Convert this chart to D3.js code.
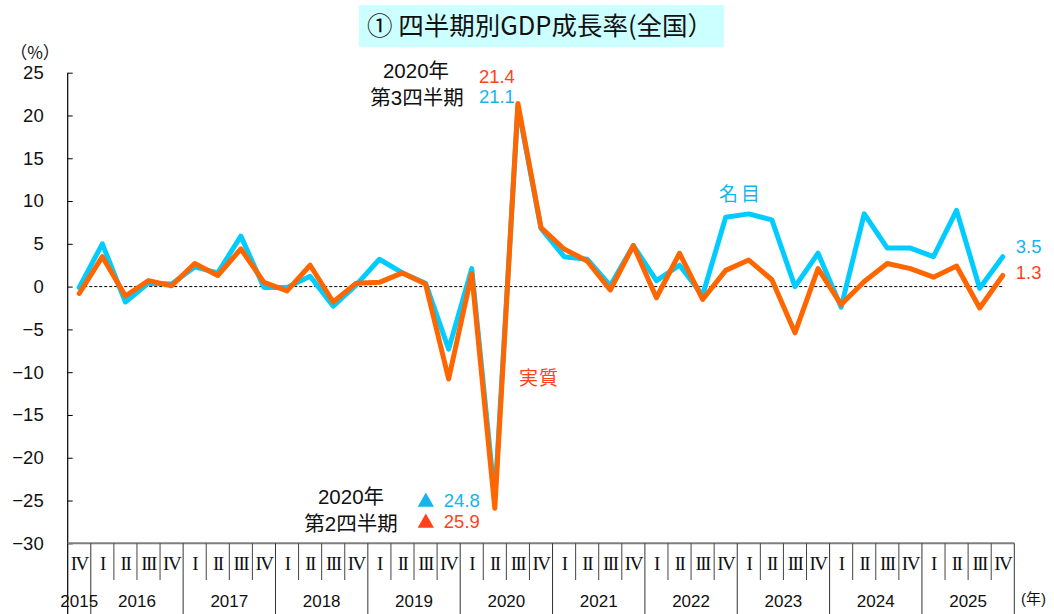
<!DOCTYPE html>
<html>
<head>
<meta charset="utf-8">
<script src="https://cdn.jsdelivr.net/npm/d3@7"></script>
<style>
html,body{margin:0;padding:0;background:#fff;}
svg{display:block;}
text{font-family:"Liberation Sans","Noto Sans CJK JP",sans-serif;}
</style>
</head>
<body>
<svg id="chart" width="1054" height="614"></svg>
<script>
// ---- data ----
const years = ["2015","2016","2017","2018","2019","2020","2021","2022","2023","2024","2025"];
const quarterLabels = ["I","II","III","IV"];
// categories: 2015 Q4 .. 2025 Q4
const categories = [{y:"2015",q:4}].concat(
  years.slice(1).flatMap(y => [1,2,3,4].map(q => ({y, q})))
);
const nominal = [-0.1, 5.0, -1.8, 0.4, 0.3, 2.3, 1.6, 5.9, -0.1, -0.1, 1.2, -2.3, 0.2, 3.2, 1.6, 0.4, -7.3, 2.1, -24.8, 21.1, 6.8, 3.5, 3.2, 0.1, 4.8, 0.7, 2.5, -1.0, 8.1, 8.5, 7.8, 0.0, 3.9, -2.4, 8.5, 4.5, 4.5, 3.5, 8.9, -0.2, 3.5];
const real    = [-0.8, 3.5, -1.1, 0.7, 0.1, 2.7, 1.3, 4.4, 0.5, -0.5, 2.5, -1.8, 0.4, 0.5, 1.6, 0.3, -10.8, 1.5, -25.9, 21.4, 6.9, 4.4, 3.0, -0.4, 4.8, -1.3, 3.9, -1.5, 1.9, 3.1, 0.8, -5.4, 2.1, -2.1, 0.6, 2.7, 2.1, 1.1, 2.4, -2.5, 1.3];
const yTicks = [-30,-25,-20,-15,-10,-5,0,5,10,15,20,25];

const title = "① 四半期別GDP成長率(全国）";

// ---- layout ----
const svg = d3.select("#chart");
const pLeft = 67.7, pRight = 1014.3, pTop = 72.7, pBottom = 543.3, H = 614;
const cyanLine = "#00ccff", orangeLine = "#ff6600";
const cyanText = "#14b4ee", orangeText = "#ff4219";
const jp = "'Noto Sans CJK JP',sans-serif";

const x = d3.scaleBand().domain(d3.range(categories.length)).range([pLeft, pRight]).padding(0);
const y = d3.scaleLinear().domain([-30, 25]).range([pBottom, pTop]);
const cx = i => x(i) + x.bandwidth()/2;

// title
svg.append("rect").attr("x",359).attr("y",5).attr("width",365).attr("height",42).attr("fill","#ccffff");
svg.append("text").attr("x",540).attr("y",35).attr("text-anchor","middle")
  .style("font-family",jp).style("font-size","25.5px").attr("fill","#111")
  .text(title);

// y axis
const yAxis = d3.axisLeft(y).tickValues(yTicks).tickSizeInner(-5).tickSizeOuter(0).tickPadding(24);
const gy = svg.append("g").attr("transform",`translate(${pLeft},0)`).call(yAxis);
gy.select(".domain").remove();
gy.selectAll(".tick line").attr("stroke","#000");
gy.selectAll(".tick text").style("font-size","18.5px").style("font-family","'Liberation Sans',sans-serif").attr("fill","#111");
svg.append("line").attr("x1",pLeft).attr("x2",pLeft).attr("y1",pTop).attr("y2",H).attr("stroke","#000").attr("stroke-width",1.2);
svg.append("text").attr("x",35).attr("y",59).attr("text-anchor","middle")
  .style("font-family",jp).style("font-size","17px").attr("fill","#111").text("（%）");

// x axis (quarters)
const xAxis = d3.axisBottom(x).tickSize(0).tickPadding(13).tickFormat(i => quarterLabels[categories[i].q-1]);
const gx = svg.append("g").attr("transform",`translate(0,${pBottom})`).call(xAxis);
gx.select(".domain").remove();
gx.selectAll(".tick text").style("font-size","19px").style("font-family","'Liberation Serif',serif")
  .style("letter-spacing","-1.5px").attr("fill","#111");
svg.append("line").attr("x1",pLeft).attr("x2",pRight).attr("y1",pBottom).attr("y2",pBottom).attr("stroke","#7f7f7f").attr("stroke-width",2);

// cell boundaries
const bounds = d3.range(1, categories.length+1);
svg.append("g").selectAll("line").data(bounds).join("line")
  .attr("x1", i => i < categories.length ? x(i) : pRight)
  .attr("x2", i => i < categories.length ? x(i) : pRight)
  .attr("y1", pBottom)
  .attr("y2", i => (i === categories.length || categories[i].q === 1) ? H : 580)
  .attr("stroke", i => (i === categories.length || categories[i].q === 1) ? "#333" : "#444")
  .attr("stroke-width", 1);

// year labels
const yearGroups = d3.groups(categories.map((c,i)=>({...c,i})), d => d.y);
svg.append("g").selectAll("text").data(yearGroups).join("text")
  .attr("x", d => (cx(d[1][0].i) + cx(d[1][d[1].length-1].i))/2)
  .attr("y", 607).attr("text-anchor","middle")
  .style("font-size","17px").attr("fill","#111")
  .text(d => d[0]);
svg.append("text").attr("x",1021).attr("y",604)
  .style("font-size","15px").attr("fill","#111").text("(年)");

// zero line
svg.append("line").attr("x1",cx(0)).attr("x2",cx(categories.length-1))
  .attr("y1",y(0)).attr("y2",y(0)).attr("stroke","#000").attr("stroke-width",1).attr("stroke-dasharray","3,2");

// lines
const line = d3.line().x((d,i)=>cx(i)).y(d=>y(d));
svg.append("path").datum(nominal).attr("d",line).attr("fill","none")
  .attr("stroke",cyanLine).attr("stroke-width",5).attr("stroke-linejoin","round").attr("stroke-linecap","round");
svg.append("path").datum(real).attr("d",line).attr("fill","none")
  .attr("stroke",orangeLine).attr("stroke-width",5).attr("stroke-linejoin","round").attr("stroke-linecap","round");

// annotations
const fs = "18.5px", fj = "20.5px";
const iPeak = 19, iDip = 18, last = categories.length-1;
svg.append("text").attr("x",416).attr("y",78).attr("text-anchor","middle").style("font-size",fj).attr("fill","#111").text("2020年");
svg.append("text").attr("x",417).attr("y",105).attr("text-anchor","middle").style("font-size",fj).attr("fill","#111").text("第3四半期");
svg.append("text").attr("x",cx(iPeak)-39).attr("y",83).style("font-size",fs).attr("fill",orangeText).text(real[iPeak].toFixed(1));
svg.append("text").attr("x",cx(iPeak)-39).attr("y",103).style("font-size",fs).attr("fill",cyanText).text(nominal[iPeak].toFixed(1));

svg.append("text").attr("x",351).attr("y",504).attr("text-anchor","middle").style("font-size",fj).attr("fill","#111").text("2020年");
svg.append("text").attr("x",351).attr("y",531).attr("text-anchor","middle").style("font-size",fj).attr("fill","#111").text("第2四半期");
const tri = d3.symbol(d3.symbolTriangle, 115);
svg.append("path").attr("d",tri()).attr("transform",`translate(${cx(iDip)-69},502)`).attr("fill",cyanText);
svg.append("path").attr("d",tri()).attr("transform",`translate(${cx(iDip)-69},523)`).attr("fill",orangeText);
svg.append("text").attr("x",cx(iDip)-51).attr("y",507).style("font-size",fs).attr("fill",cyanText).text(Math.abs(nominal[iDip]).toFixed(1));
svg.append("text").attr("x",cx(iDip)-51).attr("y",528).style("font-size",fs).attr("fill",orangeText).text(Math.abs(real[iDip]).toFixed(1));

svg.append("text").attr("x",741).attr("y",201).attr("text-anchor","middle").style("font-size","19px").style("letter-spacing","3px").attr("fill",cyanText).text("名目");
svg.append("text").attr("x",539).attr("y",385).attr("text-anchor","middle").style("font-size","19px").style("letter-spacing","1px").attr("fill",orangeText).text("実質");
svg.append("text").attr("x",cx(last)+13).attr("y",253).style("font-size",fs).attr("fill",cyanText).text(nominal[last].toFixed(1));
svg.append("text").attr("x",cx(last)+13).attr("y",279).style("font-size",fs).attr("fill",orangeText).text(real[last].toFixed(1));
</script>
</body>
</html>
